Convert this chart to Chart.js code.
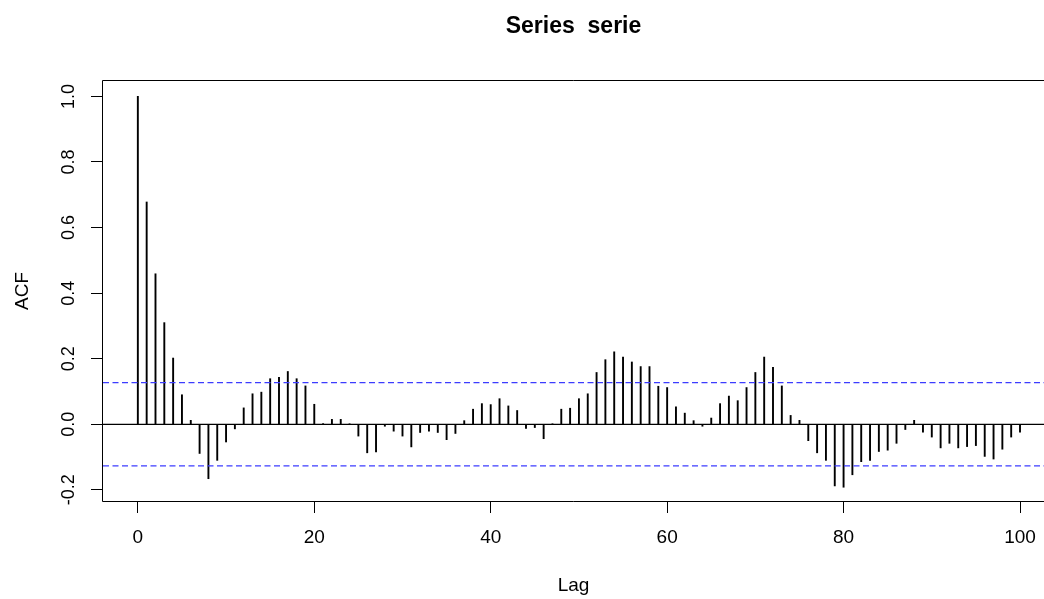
<!DOCTYPE html>
<html>
<head>
<meta charset="utf-8">
<script src="https://cdn.jsdelivr.net/npm/chart.js@4/dist/chart.umd.min.js"></script>
<style>
  html, body { margin: 0; padding: 0; background: #ffffff; }
  #wrap { width: 1044px; height: 599px; }
</style>
</head>
<body>
<div id="wrap"><canvas id="c" width="1044" height="599"></canvas></div>
<script>
// ---- data ----
const lags = [0,1,2,3,4,5,6,7,8,9,10,11,12,13,14,15,16,17,18,19,20,21,22,23,24,25,26,27,28,29,30,31,32,33,34,35,36,37,38,39,40,41,42,43,44,45,46,47,48,49,50,51,52,53,54,55,56,57,58,59,60,61,62,63,64,65,66,67,68,69,70,71,72,73,74,75,76,77,78,79,80,81,82,83,84,85,86,87,88,89,90,91,92,93,94,95,96,97,98,99,100];
const acfValues = [
  1.000, 0.678, 0.459, 0.310, 0.202, 0.090, 0.012, -0.089, -0.166, -0.110,
  -0.054, -0.014, 0.050, 0.093, 0.098, 0.139, 0.143, 0.161, 0.139, 0.117,
  0.061, 0.002, 0.015, 0.015, 0.001, -0.036, -0.087, -0.084, -0.006, -0.021,
  -0.036, -0.069, -0.025, -0.021, -0.025, -0.047, -0.028, 0.011, 0.046, 0.063,
  0.060, 0.078, 0.056, 0.042, -0.013, -0.010, -0.044, 0.001, 0.046, 0.049,
  0.078, 0.093, 0.158, 0.197, 0.221, 0.205, 0.190, 0.176, 0.176, 0.116,
  0.112, 0.053, 0.034, 0.011, -0.006, 0.019, 0.063, 0.086, 0.072, 0.112,
  0.158, 0.205, 0.174, 0.117, 0.027, 0.012, -0.050, -0.087, -0.110, -0.188,
  -0.192, -0.154, -0.114, -0.110, -0.083, -0.079, -0.058, -0.016, 0.012, -0.024,
  -0.039, -0.072, -0.058, -0.072, -0.068, -0.065, -0.098, -0.106, -0.076, -0.039,
  -0.024
];
const ciBound = 0.127;
const xTicks = [0, 20, 40, 60, 80, 100];
const yTicks = [-0.2, 0.0, 0.2, 0.4, 0.6, 0.8, 1.0];
const xRange = [-3.95, 102.72];
const yRange = [-0.234, 1.047];
const titleText = 'Series  serie';
const xLabel = 'Lag';
const yLabel = 'ACF';

// ---- build ----
const FONT = 'Arial, "Liberation Sans", Helvetica, sans-serif';
const barData = lags.map((l, i) => ({ x: l, y: acfValues[i] }));
const hLine = (v) => [{ x: xRange[0], y: v }, { x: xRange[1], y: v }];

const boxPlugin = {
  id: 'box',
  afterDatasetsDraw(chart) {
    const { ctx, chartArea: a } = chart;
    ctx.save();
    ctx.strokeStyle = '#000';
    ctx.lineWidth = 1;
    ctx.beginPath();
    ctx.moveTo(a.right + 2, a.top - 0.5);
    ctx.lineTo(a.left - 0.5, a.top - 0.5);
    ctx.lineTo(a.left - 0.5, a.bottom + 0.5);
    ctx.lineTo(a.right + 2, a.bottom + 0.5);
    ctx.stroke();
    ctx.restore();
  }
};

new Chart(document.getElementById('c'), {
  type: 'bar',
  data: {
    datasets: [
      {
        type: 'bar',
        data: barData,
        backgroundColor: '#000',
        borderWidth: 0,
        barThickness: 1.25,
        order: 2
      },
      {
        type: 'line',
        data: hLine(0),
        borderColor: '#000',
        borderWidth: 1.2,
        pointRadius: 0,
        order: 1
      },
      {
        type: 'line',
        data: hLine(ciBound),
        borderColor: '#3c3cff',
        borderWidth: 1.3,
        borderDash: [6, 3.5],
        pointRadius: 0,
        order: 1
      },
      {
        type: 'line',
        data: hLine(-ciBound),
        borderColor: '#3c3cff',
        borderWidth: 1.3,
        borderDash: [6, 3.5],
        pointRadius: 0,
        order: 1
      }
    ]
  },
  options: {
    responsive: false,
    devicePixelRatio: 1,
    animation: false,
    events: [],
    layout: { padding: 0, autoPadding: false },
    plugins: {
      legend: { display: false },
      tooltip: { enabled: false },
      title: {
        display: true,
        fullSize: false,
        text: titleText,
        color: '#000',
        font: { family: FONT, size: 23, weight: 'bold', lineHeight: 1.2 },
        padding: { top: 13.2, bottom: 40.2 }
      }
    },
    scales: {
      x: {
        type: 'linear',
        min: xRange[0],
        max: xRange[1],
        offset: false,
        afterBuildTicks: (s) => { s.ticks = xTicks.map(v => ({ value: v })); },
        afterFit: (s) => { s.height = 98; s.paddingLeft = 0; s.paddingRight = 0; },
        grid: {
          offset: false,
          drawOnChartArea: false,
          drawTicks: true,
          tickLength: 12,
          color: '#000',
          lineWidth: 1
        },
        border: { display: false },
        ticks: {
          autoSkip: false,
          maxRotation: 0,
          minRotation: 0,
          padding: 13,
          color: '#000',
          font: { family: FONT, size: 19 },
          callback: (v) => String(v)
        },
        title: {
          display: true,
          text: xLabel,
          color: '#000',
          font: { family: FONT, size: 19 },
          padding: { top: 0, bottom: 1.5 }
        }
      },
      y: {
        type: 'linear',
        min: yRange[0],
        max: yRange[1],
        afterBuildTicks: (s) => { s.ticks = yTicks.map(v => ({ value: v })); },
        afterFit: (s) => { s.width = 103; s.paddingTop = 0; s.paddingBottom = 0; },
        grid: {
          drawOnChartArea: false,
          drawTicks: true,
          tickLength: 12,
          color: '#000',
          lineWidth: 1
        },
        border: { display: false },
        ticks: {
          autoSkip: false,
          minRotation: 90,
          maxRotation: 90,
          crossAlign: 'center',
          padding: 6.6,
          color: '#000',
          font: { family: FONT, size: 18 },
          callback: (v) => Number(v).toFixed(1)
        },
        title: {
          display: true,
          text: yLabel,
          color: '#000',
          font: { family: FONT, size: 19 },
          padding: { top: 11.6, bottom: 0 }
        }
      }
    }
  },
  plugins: [boxPlugin]
});
</script>
</body>
</html>
